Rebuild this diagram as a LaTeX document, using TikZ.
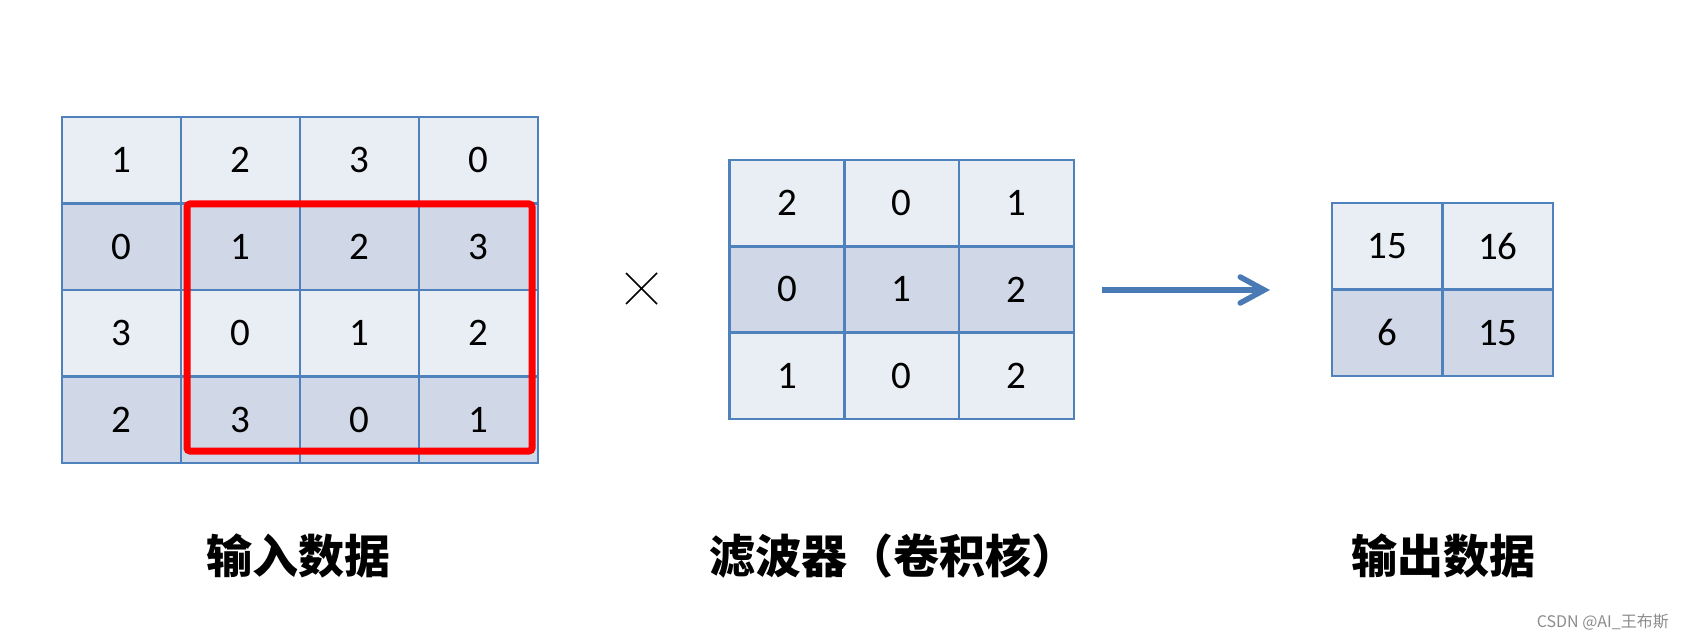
\documentclass[tikz,border=0pt]{standalone}
\usepackage{fontspec}
\setmainfont{Carlito}
\newfontfamily\cjk{Noto Sans CJK SC}
\usetikzlibrary{arrows.meta}
\definecolor{gridline}{HTML}{4F81BD}
\definecolor{lightcell}{HTML}{E9EDF4}
\definecolor{darkcell}{HTML}{D0D8E8}
\definecolor{arrowblue}{HTML}{4A7AB6}
\definecolor{markred}{HTML}{FF0000}
\tikzset{
  cell/.style={draw=gridline, line width=2.5pt, inner sep=0pt, outer sep=0pt,
    font=\fontsize{39pt}{39pt}\selectfont},
  incell/.style={cell, minimum width=119pt, minimum height=86.5pt},
  kcell/.style={cell, minimum width=114.8pt, minimum height=86.3pt},
  ocell/.style={cell, minimum width=110.5pt, minimum height=86.5pt},
  caption/.style={font=\cjk\bfseries\fontsize{46pt}{46pt}\selectfont, inner sep=0pt},
}
\begin{document}
\begin{tikzpicture}[x=1pt,y=-1pt]
\useasboundingbox (0,0) rectangle (1683,644);
% input data 4x4
\foreach \r/\row/\f in {1/{1,2,3,0}/lightcell, 2/{0,1,2,3}/darkcell, 3/{3,0,1,2}/lightcell, 4/{2,3,0,1}/darkcell}{
  \foreach \v [count=\c] in \row {
    \node[incell, fill=\f] (in-\r-\c) at ({62+119*(\c-0.5)},{117+86.5*(\r-0.5)}) {\v};
  }
}
% red window
\draw[markred, line width=7pt, rounded corners=3pt] (187,204) rectangle (532,451);
% multiplication sign
\coordinate (x1) at (626,273); \coordinate (x2) at (657,304);
\coordinate (x3) at (657,273); \coordinate (x4) at (626,304);
\draw[line width=1.6pt] (x1) -- (x2) (x3) -- (x4);
% kernel 3x3
\foreach \r/\row/\f in {1/{2,0,1}/lightcell, 2/{0,1,2}/darkcell, 3/{1,0,2}/lightcell}{
  \foreach \v [count=\c] in \row {
    \node[kcell, fill=\f] (k-\r-\c) at ({729.5+114.8*(\c-0.5)},{160+86.3*(\r-0.5)}) {\v};
  }
}
% arrow
\coordinate (aS) at (1102,290);
\coordinate (aE) at (1270,290);
\draw[arrowblue, line width=5.5pt, -{Straight Barb[length=24pt,width=26pt,line cap=round]}] (aS) -- (aE);
% output 2x2
\foreach \r/\row/\f in {1/{15,16}/lightcell, 2/{6,15}/darkcell}{
  \foreach \v [count=\c] in \row {
    \node[ocell, fill=\f] (o-\r-\c) at ({1332+110.5*(\c-0.5)},{203+86.5*(\r-0.5)}) {\v};
  }
}
% captions
\node[caption] (capin) at (298,556) {输入数据};
\node[caption] (capk) at (893,556) {滤波器（卷积核）};
\node[caption] (capout) at (1443,556) {输出数据};
\node[font=\cjk\fontsize{16pt}{16pt}\selectfont, text=black!45, anchor=east, inner sep=0pt] (wm) at (1669,622) {CSDN @AI\_王布斯};
\end{tikzpicture}
\end{document}
